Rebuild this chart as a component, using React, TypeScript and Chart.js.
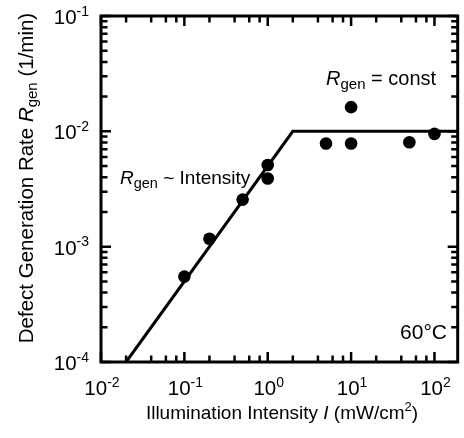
import React, { useEffect, useRef } from 'react';
import { Chart, registerables } from 'chart.js';

Chart.register(...registerables);

// ---- data ----
const POINT_X = [0.1, 0.2, 0.5, 1, 1, 5, 10, 10, 50, 100];
const POINT_Y = [5.5e-4, 1.17e-3, 2.56e-3, 5.1e-3, 3.9e-3, 7.85e-3, 7.85e-3, 1.62e-2, 8.05e-3, 9.5e-3];
const FIT_X = [0.02, 2, 190];
const FIT_Y = [1e-4, 1e-2, 1e-2];

const X_MIN = 0.01;
const X_MAX = 190;
const Y_MIN = 1e-4;
const Y_MAX = 0.1;

const X_TICK_EXPONENTS = [-2, -1, 0, 1, 2];
const Y_TICK_EXPONENTS = [-4, -3, -2, -1];
const X_MINOR_MULTIPLIERS = [2, 4, 6, 8];
const Y_MINOR_MULTIPLIERS = [2, 3, 4, 5, 6, 7, 8, 9];

const FONT = "'Liberation Sans', Arial, Helvetica, sans-serif";

type Part = { text: string; size: number; italic?: boolean; dy?: number };

function setFont(ctx: CanvasRenderingContext2D, p: Part) {
  ctx.font = `${p.italic ? 'italic ' : ''}${p.size}px ${FONT}`;
}

function drawRich(
  ctx: CanvasRenderingContext2D,
  parts: Part[],
  x: number,
  y: number,
  align: 'left' | 'center' | 'right'
) {
  let total = 0;
  const widths = parts.map((p) => {
    setFont(ctx, p);
    const w = ctx.measureText(p.text).width;
    total += w;
    return w;
  });
  let cx = align === 'left' ? x : align === 'center' ? x - total / 2 : x - total;
  ctx.textAlign = 'left';
  ctx.textBaseline = 'alphabetic';
  parts.forEach((p, i) => {
    setFont(ctx, p);
    ctx.fillText(p.text, cx, y + (p.dy || 0));
    cx += widths[i];
  });
}

const powParts = (e: number): Part[] => [
  { text: '10', size: 20.5 },
  { text: String(e), size: 14, dy: -8.5 },
];

const X_TITLE: Part[] = [
  { text: 'Illumination Intensity ', size: 19 },
  { text: 'I', size: 19, italic: true },
  { text: ' (mW/cm', size: 19 },
  { text: '2', size: 13, dy: -8 },
  { text: ')', size: 19 },
];

const Y_TITLE: Part[] = [
  { text: 'Defect Generation Rate ', size: 20.5 },
  { text: 'R', size: 20.5, italic: true },
  { text: 'gen', size: 15, dy: 4 },
  { text: ' (1/min)', size: 20.5 },
];

const ANNOT_CONST: Part[] = [
  { text: 'R', size: 20, italic: true },
  { text: 'gen', size: 15, dy: 4 },
  { text: ' = const', size: 20 },
];

const ANNOT_INTENSITY: Part[] = [
  { text: 'R', size: 19, italic: true },
  { text: 'gen', size: 14.5, dy: 4 },
  { text: ' ~ Intensity', size: 19 },
];

const ANNOT_TEMP: Part[] = [{ text: '60°C', size: 21 }];

const decorPlugin = {
  id: 'decor',
  afterDraw(chart: any) {
    const ctx: CanvasRenderingContext2D = chart.ctx;
    const { left, right, top, bottom } = chart.chartArea;
    const xs = chart.scales.x;
    const ys = chart.scales.y;
    ctx.save();
    ctx.strokeStyle = '#000';
    ctx.fillStyle = '#000';

    // frame
    ctx.lineWidth = 3;
    ctx.strokeRect(left, top, right - left, bottom - top);

    // ticks
    ctx.lineWidth = 2.5;
    const MAJ = 10;
    const MIN = 6.5;
    const xTick = (v: number, len: number) => {
      const px = xs.getPixelForValue(v);
      if (px < left - 0.5 || px > right + 0.5) return;
      ctx.beginPath();
      ctx.moveTo(px, bottom);
      ctx.lineTo(px, bottom - len);
      ctx.moveTo(px, top);
      ctx.lineTo(px, top + len);
      ctx.stroke();
    };
    const yTick = (v: number, len: number) => {
      const py = ys.getPixelForValue(v);
      if (py < top - 0.5 || py > bottom + 0.5) return;
      ctx.beginPath();
      ctx.moveTo(left, py);
      ctx.lineTo(left + len, py);
      ctx.moveTo(right, py);
      ctx.lineTo(right - len, py);
      ctx.stroke();
    };
    for (let e = -3; e <= 2; e++) {
      const base = Math.pow(10, e);
      if (base >= X_MIN && base <= X_MAX) xTick(base, MAJ);
      X_MINOR_MULTIPLIERS.forEach((m) => {
        const v = m * base;
        if (v > X_MIN && v < X_MAX) xTick(v, MIN);
      });
    }
    for (let e = -5; e <= -1; e++) {
      const base = Math.pow(10, e);
      if (base >= Y_MIN && base <= Y_MAX) yTick(base, MAJ);
      Y_MINOR_MULTIPLIERS.forEach((m) => {
        const v = m * base;
        if (v > Y_MIN && v < Y_MAX) yTick(v, MIN);
      });
    }

    // tick labels
    X_TICK_EXPONENTS.forEach((e) => {
      const px = xs.getPixelForValue(Math.pow(10, e));
      drawRich(ctx, powParts(e), px + 1, 395, 'center');
    });
    Y_TICK_EXPONENTS.forEach((e) => {
      const py = ys.getPixelForValue(Math.pow(10, e));
      drawRich(ctx, powParts(e), 89, py + 8, 'right');
    });

    // axis titles
    drawRich(ctx, X_TITLE, 282, 419, 'center');
    ctx.save();
    ctx.translate(33, 178);
    ctx.rotate(-Math.PI / 2);
    drawRich(ctx, Y_TITLE, 0, 0, 'center');
    ctx.restore();

    // annotations
    drawRich(ctx, ANNOT_CONST, 326, 85, 'left');
    drawRich(ctx, ANNOT_INTENSITY, 120, 184, 'left');
    drawRich(ctx, ANNOT_TEMP, 447, 339, 'right');

    ctx.restore();
  },
};

export default function App() {
  const canvasRef = useRef<HTMLCanvasElement | null>(null);

  useEffect(() => {
    if (!canvasRef.current) return;
    const chart = new Chart(canvasRef.current, {
      type: 'scatter',
      data: {
        datasets: [
          {
            label: 'data',
            data: POINT_X.map((x, i) => ({ x, y: POINT_Y[i] })),
            backgroundColor: '#000',
            borderColor: '#000',
            borderWidth: 0,
            pointRadius: 6.3,
            pointStyle: 'circle',
          },
          {
            label: 'fit',
            data: FIT_X.map((x, i) => ({ x, y: FIT_Y[i] })),
            showLine: true,
            borderColor: '#000',
            borderWidth: 3,
            pointRadius: 0,
            fill: false,
          },
        ],
      },
      options: {
        animation: false,
        responsive: false,
        maintainAspectRatio: false,
        layout: { padding: { left: 101, top: 16, right: 1, bottom: 76 } },
        plugins: {
          legend: { display: false },
          tooltip: { enabled: false },
        },
        scales: {
          x: { type: 'logarithmic', min: X_MIN, max: X_MAX, display: false },
          y: { type: 'logarithmic', min: Y_MIN, max: Y_MAX, display: false },
        },
      },
      plugins: [decorPlugin],
    } as any);
    return () => chart.destroy();
  }, []);

  return (
    <div style={{ position: 'fixed', left: 0, top: 0, width: 464, height: 438, background: '#fff' }}>
      <canvas ref={canvasRef} width={464} height={438} style={{ width: 464, height: 438 }} />
    </div>
  );
}
